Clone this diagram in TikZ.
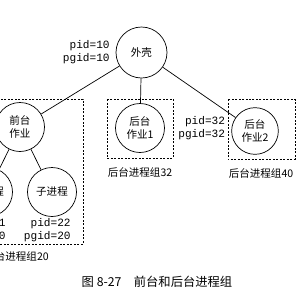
\documentclass[tikz,border=0pt]{standalone}
\usepackage{fontspec}
\setmonofont{Liberation Mono}
\newfontfamily\cjk{Noto Sans CJK SC}
\begin{document}
\begin{tikzpicture}[x=0.3mm,y=-0.3mm,line width=0.6pt,
  proc/.style={draw, circle, minimum size=14.7mm, inner sep=0pt, align=center, font=\cjk\fontsize{9}{11.5}\selectfont},
  ids/.style={align=right, inner sep=0pt, font=\ttfamily\fontsize{9.5}{10.5}\selectfont},
  grp/.style={dashed, dash pattern=on 0.6mm off 0.45mm},
  grplabel/.style={font=\cjk\fontsize{9}{11}\selectfont}]
\path[use as bounding box] (0,0) rectangle (300,300);
\clip (0,0) rectangle (300,300);

\node[proc,minimum size=15.3mm] (shell) at (141.5,52.5) {外壳};
\node[proc] (fg) at (20,127) {前台\\作业};
\node[proc] (bg1) at (140,128) {后台\\作业1};
\node[proc,minimum size=14mm] (bg2) at (255,131) {后台\\作业2};
\node[proc] (child1) at (-12,192) {子进程};
\node[proc] (child2) at (52,192) {子进程};
\draw (shell) -- (fg);
\draw (shell) -- (bg1);
\draw (shell) -- (bg2);
\draw (fg) -- (child1);
\draw (fg) -- (child2);

\node[ids,anchor=east] (id10) at (110,52) {pid=10\\pgid=10};
\node[ids,anchor=west] (id32) at (178,128) {pid=32\\pgid=32};
\node[ids,anchor=east] (id21) at (6,230) {pid=21\\pgid=20};
\node[ids,anchor=east] (id22) at (71,230) {pid=22\\pgid=20};

% process groups
\draw[grp] (-110,99) rectangle (83,244);
\draw[grp] (107,99) rectangle (173,158);
\draw[grp] (228,99) rectangle (295,159);
\node[grplabel,anchor=east] (g20) at (53,256) {前台进程组20};
\node[grplabel] (g32) at (140,172) {后台进程组32};
\node[grplabel] (g40) at (261,173) {后台进程组40};

\node[font=\cjk\fontsize{10.5}{12}\selectfont] (cap) at (157,282) {图 8-27\quad 前台和后台进程组};
\end{tikzpicture}
\end{document}
